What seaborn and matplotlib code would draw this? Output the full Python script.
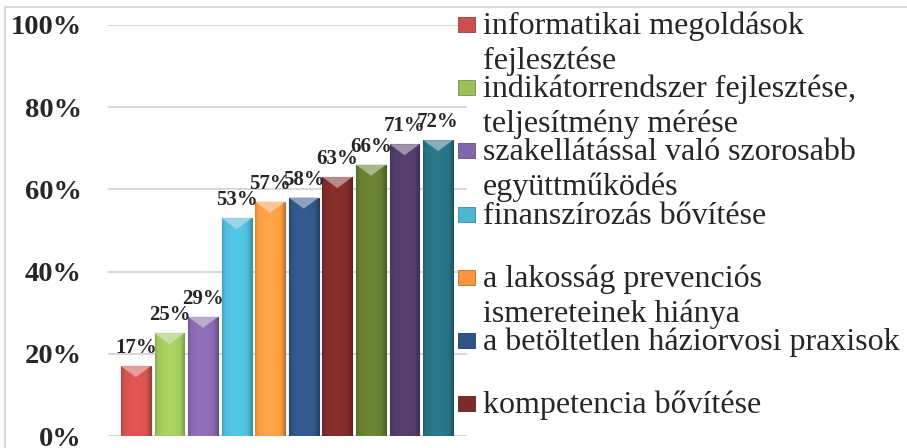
import numpy as np
import pandas as pd
import matplotlib
matplotlib.use("Agg")
import matplotlib.pyplot as plt
import seaborn as sns
from matplotlib.colors import to_rgb
from matplotlib.patches import Rectangle, Polygon

# legend texts (the legend of the original is cut after 7 entries)
legend_labels = [
    "informatikai megoldások\nfejlesztése",
    "indikátorrendszer fejlesztése,\nteljesítmény mérése",
    "szakellátással való szorosabb\negyüttműködés",
    "finanszírozás bővítése",
    "a lakosság prevenciós\nismereteinek hiánya",
    "a betöltetlen háziorvosi praxisok",
    "kompetencia bővítése",
]
categories = [lab.replace("\n", " ") for lab in legend_labels] + ["8", "9", "10"]
values = [0.17, 0.25, 0.29, 0.53, 0.57, 0.58, 0.63, 0.66, 0.71, 0.72]
colors = ["#CD4F4B", "#9DC15A", "#8466AA", "#4DB6D4", "#F7963F",
          "#2E5484", "#7D2A28", "#617A2E", "#4F3A66", "#266E80"]
yticks = [0, 0.2, 0.4, 0.6, 0.8, 1.0]

sns.set_style("white")
plt.rcParams["font.family"] = ["Liberation Serif", "DejaVu Serif"]

W, H = 907, 448
fig = plt.figure(figsize=(W / 100, H / 100), dpi=100)
ax = fig.add_axes([108 / W, 12 / H, (467 - 108) / W, (436 - 25) / H])

df = pd.DataFrame({"cat": categories, "val": values})
sns.barplot(data=df, x="cat", y="val", hue="cat", palette=colors, saturation=1,
            width=0.89, legend=False, ax=ax, zorder=2)

# fake 3D look: horizontal shading + light bevel at the top
px_y = 1 / (436 - 25)
for p, c in zip(ax.patches, colors):
    x0, w, h = p.get_x(), p.get_width(), p.get_height()
    base = np.array(to_rgb(c))
    t = np.linspace(0, 1, 40)
    shade = 1.0 + 0.10 * np.sin(np.pi * t) - 0.18 * np.clip((t - 0.85) / 0.15, 0, 1) \
        - 0.10 * np.clip((0.1 - t) / 0.1, 0, 1)
    img = np.clip(base[None, None, :] * shade[None, :, None], 0, 1)
    im = ax.imshow(img, extent=[x0, x0 + w, 0, h], aspect="auto", zorder=2.1)
    im.set_clip_path(p)
    p.set_edgecolor(tuple(base * 0.75))
    p.set_linewidth(0.8)
    light = tuple(base + (1 - base) * 0.45)
    ax.add_patch(Polygon([(x0, h), (x0 + w, h), (x0 + w / 2, h - 11 * px_y)],
                         closed=True, facecolor=light, edgecolor="none", zorder=2.2))
    ax.text(x0 + w / 2, h + 13 * px_y, f"{h:.0%}", ha="center", va="baseline",
            fontsize=15, fontweight="bold", zorder=3)

ax.set_xlim(-0.83, 9.86)
ax.set_ylim(0, 1)
ax.set_yticks(yticks)
ax.set_yticklabels([f"{v:.0%}" for v in yticks], fontsize=20.5, fontweight="bold")
ax.set_xticks([])
ax.set_xlabel("")
ax.set_ylabel("")
ax.tick_params(axis="y", length=0, pad=19)
ax.yaxis.grid(True, color="#D9D9D9", linewidth=1.5)
ax.set_axisbelow(True)
for s in ax.spines.values():
    s.set_visible(False)

# legend drawn by hand so the marker sits on the first text line
for i, lab in enumerate(legend_labels):
    yb = 34 + 63.2 * i
    fig.add_artist(Rectangle((458 / W, 1 - (yb - 2) / H), 17 / W, 15 / H,
                             transform=fig.transFigure, facecolor=colors[i],
                             edgecolor=tuple(np.array(to_rgb(colors[i])) * 0.75), lw=0.6))
    for j, line in enumerate(lab.split("\n")):
        fig.text(483 / W, 1 - (yb + 35 * j) / H, line, fontsize=23, va="baseline")

# outer chart frame
fig.add_artist(Rectangle((5 / W, -0.1), 1.2, 1 - 7 / H + 0.1, transform=fig.transFigure,
                         fill=False, edgecolor="#D9D9D9", lw=1.5))

fig.savefig("out.png", dpi=100)
